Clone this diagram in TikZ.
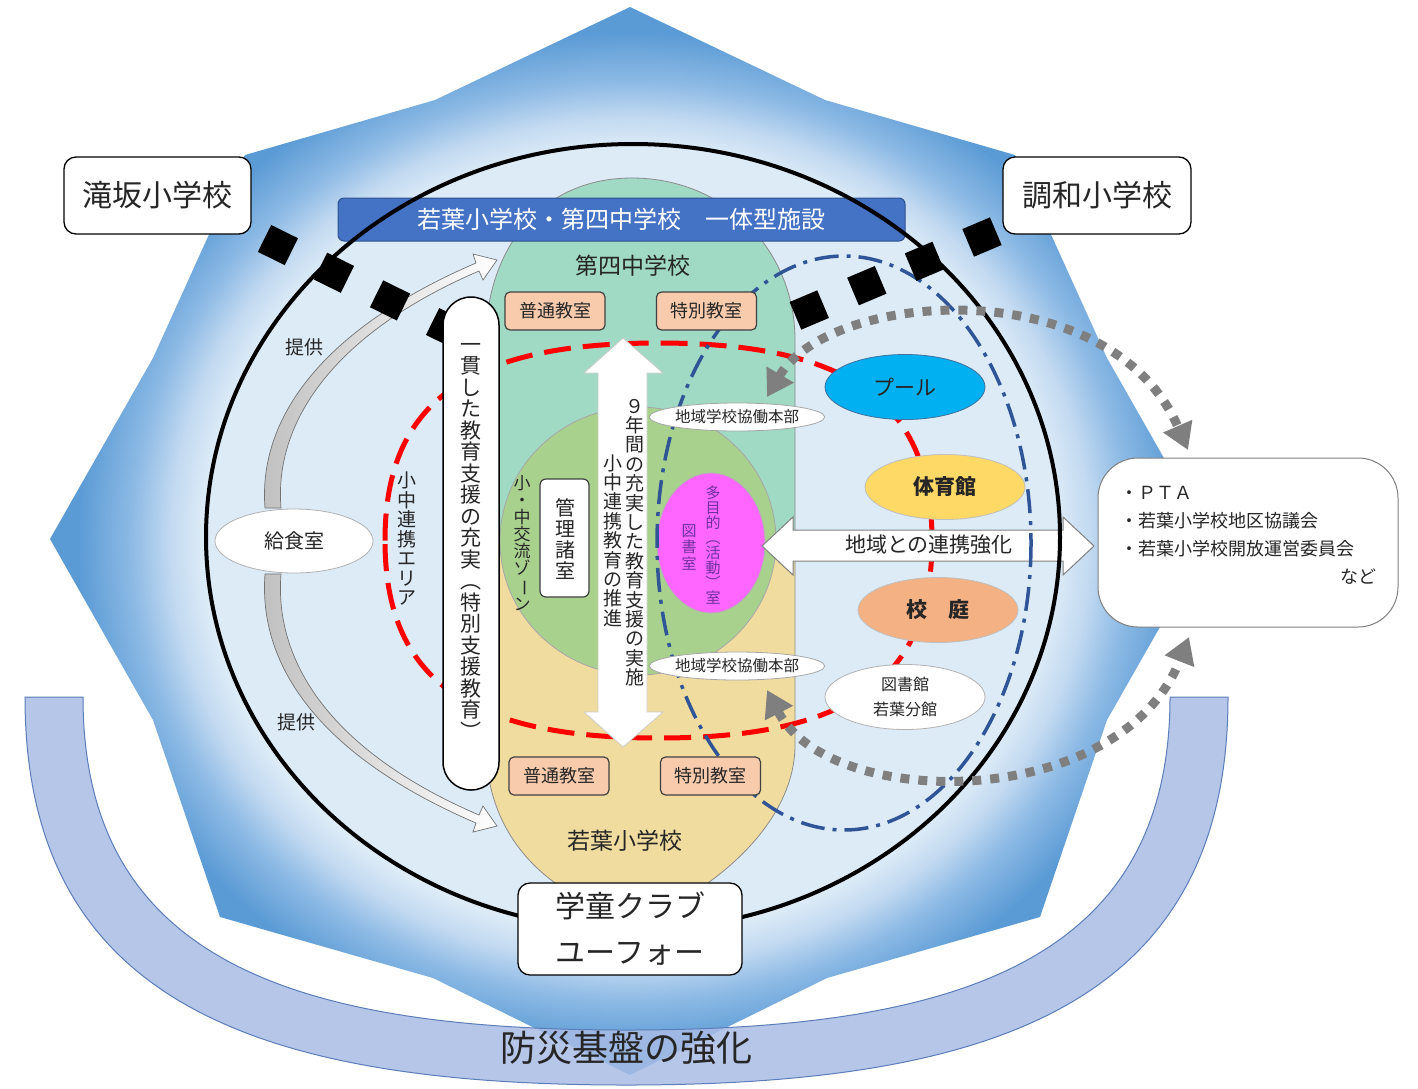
\documentclass[tikz,border=0pt]{standalone}
\usepackage{fontspec}
\setmainfont{Noto Sans CJK JP}
\usetikzlibrary{shapes.geometric,arrows.meta}
\definecolor{innerc}{HTML}{DDEBF7}
\definecolor{lightb}{HTML}{C3DAF1}
\definecolor{midc}{HTML}{8DBAE5}
\definecolor{edgec}{HTML}{5B9BD5}
\definecolor{bandc}{HTML}{A9BDE6}
\definecolor{bandline}{HTML}{5B7DB8}
\definecolor{tealc}{HTML}{A0D9C4}
\definecolor{yelc}{HTML}{F1DC9F}
\definecolor{greenc}{HTML}{A9D18E}
\definecolor{magc}{HTML}{FF66FF}
\definecolor{peachc}{HTML}{F8CBAD}
\definecolor{poolc}{HTML}{00B0F0}
\definecolor{poolline}{HTML}{41719C}
\definecolor{gymc}{HTML}{FFD966}
\definecolor{yardc}{HTML}{F4B183}
\definecolor{bannerc}{HTML}{4472C4}
\definecolor{bannerline}{HTML}{2F528F}
\definecolor{bluedd}{HTML}{2F5597}
\definecolor{purplec}{HTML}{7030A0}
\definecolor{dotc}{HTML}{7F7F7F}
\definecolor{txt}{HTML}{262626}
\definecolor{redc}{HTML}{FF0000}
\pgfdeclareradialshading{starshade}{\pgfpoint{0bp}{0bp}}{color(0bp)=(innerc); color(18.4bp)=(innerc); color(19.8bp)=(lightb); color(21.5bp)=(midc); color(23.8bp)=(edgec); color(50bp)=(edgec)}
\begin{document}
\begin{tikzpicture}[x=1pt,y=-1pt,
  every node/.style={inner sep=0pt, text=txt},
  roombox/.style={draw=black!75, line width=1.2pt, fill=peachc, rounded corners=5pt, minimum width=100pt, minimum height=38pt, font=\fontsize{18}{20}\selectfont},
  oval/.style={ellipse, minimum width=160pt, minimum height=65pt, line width=0.8pt},
  smalloval/.style={ellipse, fill=white, draw=black!35, line width=0.8pt, minimum width=156pt, minimum height=28pt, font=\fontsize{15.5}{17}\selectfont},
  whitebox/.style={draw=black, line width=1.3pt, fill=white, rounded corners=12pt},
  vtext/.style={align=center},
  graydot/.style={draw=dotc, line width=9pt, dash pattern=on 9pt off 9pt},
  sqline/.style={line width=30pt, dash pattern=on 30pt off 32.5pt}
]
\useasboundingbox (0,0) rectangle (1418,1088);
\fill[white] (0,0) rectangle (1418,1088);

% outer star polygon
\shade[shading=starshade] (630,7) -- (825,100) -- (1015,155) -- (1107,358) -- (1210,539) -- (1107,720) -- (1040,917) -- (827,978) -- (630,1075) -- (433,978) -- (220,917) -- (153,720) -- (50,539) -- (153,358) -- (245,155) -- (435,100) -- cycle;

% band of disaster prevention
\path[fill=bandc, fill opacity=0.85, draw=bandline, line width=1pt]
  (25,697) .. controls (25,1000) and (253,1085) .. (626.5,1085)
  .. controls (1000,1085) and (1228,1000) .. (1228,697) -- (1170,697)
  .. controls (1170,960) and (960,1030) .. (626.5,1030)
  .. controls (293,1030) and (83,960) .. (83,697) -- cycle;
\node[font=\fontsize{36}{40}\selectfont] (bosai) at (626,1048) {防災基盤の強化};

% big circle fill
\fill[innerc] (633,537) ellipse [x radius=427, y radius=393];

% lens shape: teal upper, yellow lower
\begin{scope}
\clip (0,0) rectangle (1418,540);
\fill[tealc] (632,178) .. controls (725,178) and (795,250) .. (795,340) -- (795,745) .. controls (795,800) and (755,850) .. (705,885) -- (632,935) -- (558,885) .. controls (508,850) and (486,800) .. (486,745) -- (486,340) .. controls (486,250) and (540,178) .. (632,178) -- cycle;
\end{scope}
\begin{scope}
\clip (0,540) rectangle (1418,1088);
\fill[yelc] (632,178) .. controls (725,178) and (795,250) .. (795,340) -- (795,745) .. controls (795,800) and (755,850) .. (705,885) -- (632,935) -- (558,885) .. controls (508,850) and (486,800) .. (486,745) -- (486,340) .. controls (486,250) and (540,178) .. (632,178) -- cycle;
\end{scope}
\draw[black!45, line width=0.8pt] (632,178) .. controls (725,178) and (795,250) .. (795,340) -- (795,745) .. controls (795,800) and (755,850) .. (705,885) -- (632,935) -- (558,885) .. controls (508,850) and (486,800) .. (486,745) -- (486,340) .. controls (486,250) and (540,178) .. (632,178) -- cycle;

% green exchange zone
\draw[fill=greenc, draw=black!35, line width=0.8pt] (638,541) ellipse [x radius=138, y radius=134];
% magenta multipurpose room
\node[ellipse, fill=magc, draw=black!30, line width=0.8pt, minimum width=108pt, minimum height=140pt] (tamoku) at (711,543) {};
\node[vtext, text=purplec, font=\fontsize{15}{14.9}\selectfont] (tamokut) at (713,545) {多\\目\\的\\︵\\活\\動\\︶\\室};
\node[vtext, text=purplec, font=\fontsize{15}{16.5}\selectfont] (toshot) at (689,547) {図\\書\\室};

% red dashed cooperation area
\draw[redc, line width=5pt, dash pattern=on 27pt off 12pt]
  (385,540.5) .. controls (385,402.3) and (467,343) .. (658.5,343)
  .. controls (850,343) and (932,402.3) .. (932,540.5)
  .. controls (932,678.7) and (850,738) .. (658.5,738)
  .. controls (467,738) and (385,678.7) .. (385,540.5) -- cycle;

% horizontal double arrow
\draw[fill=white, draw=black!50, line width=1pt] (762,546) -- (793,517) -- (793,530) -- (1063,530) -- (1063,517) -- (1094,546) -- (1063,575) -- (1063,561) -- (793,561) -- (793,575) -- cycle;
\node[font=\fontsize{21}{24}\selectfont] (renkei) at (929,545) {地域との連携強化};

% blue dash-dot ellipse
\draw[bluedd, line width=3.5pt, dash pattern=on 24pt off 8pt on 4pt off 8pt] (844,543) ellipse [x radius=187, y radius=287];

% rooms
\node[roombox] (fu1) at (555,311) {普通教室};
\node[roombox] (to1) at (706.5,311) {特別教室};
\node[roombox] (fu2) at (559,776) {普通教室};
\node[roombox] (to2) at (710.5,776) {特別教室};
\node[draw=black!75, line width=1.2pt, fill=white, rounded corners=6pt, minimum width=49pt, minimum height=118pt] (kanri) at (564.5,538) {};
\node[vtext, font=\fontsize{20}{21}\selectfont] (kanrit) at (565,539) {管\\理\\諸\\室};
\node[vtext, font=\fontsize{17}{17.1}\selectfont] (koryu) at (522,543) {小\\・\\中\\交\\流\\ゾ\\\rotatebox[origin=c]{-90}{ー}\\ン};

\node[smalloval] (chiiki1) at (737,417) {地域学校協働本部};
\node[smalloval] (chiiki2) at (737,666) {地域学校協働本部};

\node[oval, fill=poolc, draw=poolline, font=\fontsize{21}{24}\selectfont] (pool) at (905,387) {プール};
\node[oval, fill=gymc, draw=black!25, font=\bfseries\fontsize{21}{24}\selectfont] (gym) at (945,487) {体育館};
\node[oval, fill=yardc, draw=black!25, font=\bfseries\fontsize{21}{24}\selectfont] (yard) at (938,610) {校　庭};
\node[oval, fill=white, draw=black!30, align=center, font=\fontsize{16}{25}\selectfont] (lib) at (905,697) {図書館\\若葉分館};

% school lunch room arrows
\path[left color=black!25, right color=white, draw=black!55, line width=0.7pt]
  (265,508) .. controls (258,420) and (320,330) .. (476,263) -- (473,254) -- (497,260) -- (483,280) -- (479,271) .. controls (330,335) and (274,425) .. (281,508) -- cycle;
\path[left color=black!25, right color=white, draw=black!55, line width=0.7pt]
  (265,574) .. controls (258,666) and (320,756) .. (476,823) -- (473,832) -- (497,826) -- (483,806) -- (479,815) .. controls (330,751) and (274,661) .. (281,574) -- cycle;
\node[ellipse, fill=white, draw=black!30, line width=0.8pt, minimum width=158pt, minimum height=64pt, font=\fontsize{20}{24}\selectfont] (kyushoku) at (294,541) {給食室};
\node[font=\fontsize{19}{22}\selectfont] (teikyo1) at (304,347) {提供};
\node[font=\fontsize{19}{22}\selectfont] (teikyo2) at (296,722) {提供};
\node[vtext, font=\fontsize{19}{19.5}\selectfont] (area) at (407,538.5) {小\\中\\連\\携\\エ\\リ\\ア};

% vertical double arrow
\draw[fill=white, draw=black!20, line width=0.8pt] (623,338) -- (663,373) -- (647,373) -- (647,712) -- (663,712) -- (623,747) -- (584,712) -- (598,712) -- (598,373) -- (584,373) -- cycle;
\node[vtext, font=\fontsize{19}{19.4}\selectfont] (col1) at (635,542.5) {９\\年\\間\\の\\充\\実\\し\\た\\教\\育\\支\\援\\の\\実\\施};
\node[vtext, font=\fontsize{19}{19.4}\selectfont] (col2) at (613,540.5) {小\\中\\連\\携\\教\\育\\の\\推\\進};

% banner
\node[fill=bannerc, draw=bannerline, line width=1pt, rounded corners=6pt, minimum width=567pt, minimum height=43pt, text=white, font=\fontsize{24}{26}\selectfont] (banner) at (621.5,219.5) {若葉小学校・第四中学校　一体型施設};
\node[font=\fontsize{23}{26}\selectfont] (daiyon) at (633,266) {第四中学校};
\node[font=\fontsize{23}{26}\selectfont] (wakaba) at (625,841) {若葉小学校};

% big circle stroke
\draw[black, line width=4pt] (633,537) ellipse [x radius=427, y radius=393];

% black square dashed lines
\coordinate (sqa1) at (264.5,238.4);
\coordinate (sqa2) at (460,335);
\coordinate (sqb1) at (995.8,231.2);
\coordinate (sqb2) at (795,316);
\draw[sqline] (sqa1) -- (sqa2);
\draw[sqline] (sqb1) -- (sqb2);

% pill
\node[draw=black, line width=1.5pt, fill=white, rounded corners=28pt, minimum width=56pt, minimum height=493pt] (pill) at (471,543.5) {};
\node[vtext, font=\fontsize{21}{21.5}\selectfont] (pillt) at (471,541) {一\\貫\\し\\た\\教\\育\\支\\援\\の\\充\\実\\︵\\特\\別\\支\\援\\教\\育\\︶};

% gray dotted arrows
\coordinate (ga1) at (767,397);
\coordinate (ga2) at (1188,450);
\coordinate (gb1) at (767,690);
\coordinate (gb2) at (1189,637);
\draw[graydot, {Triangle[width=30pt,length=26pt]}-{Triangle[width=30pt,length=26pt]}] (ga1) .. controls (830,290) and (1110,270) .. (ga2);
\draw[graydot, {Triangle[width=30pt,length=26pt]}-{Triangle[width=30pt,length=26pt]}] (gb1) .. controls (830,812) and (1120,812) .. (gb2);

% school boxes
\node[whitebox, minimum width=187pt, minimum height=77pt, font=\fontsize{30}{34}\selectfont] (takisaka) at (157.5,195.5) {滝坂小学校};
\node[whitebox, minimum width=188pt, minimum height=77pt, font=\fontsize{30}{34}\selectfont] (chowa) at (1097,195.5) {調和小学校};
\node[whitebox, minimum width=224pt, minimum height=92pt, align=center, font=\fontsize{30}{46}\selectfont] (gakudo) at (630,929) {学童クラブ\\ユーフォー};

% PTA box
\node[draw=black!50, line width=1pt, fill=white, rounded corners=40pt, minimum width=300pt, minimum height=169pt] (pta) at (1248,542.5) {};
\node[anchor=west, font=\fontsize{18}{20}\selectfont] (pta1) at (1120,493) {・ＰＴＡ};
\node[anchor=west, font=\fontsize{18}{20}\selectfont] (pta2) at (1120,521) {・若葉小学校地区協議会};
\node[anchor=west, font=\fontsize{18}{20}\selectfont] (pta3) at (1120,549) {・若葉小学校開放運営委員会};
\node[anchor=east, font=\fontsize{18}{20}\selectfont] (pta4) at (1377,577) {など};
\end{tikzpicture}
\end{document}
